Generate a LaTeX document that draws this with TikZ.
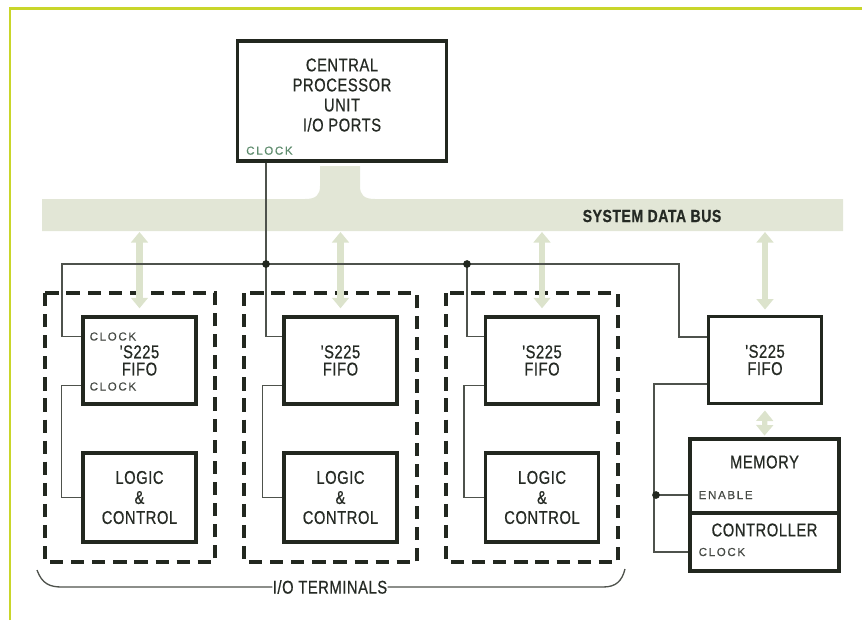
\documentclass[tikz,border=0pt]{standalone}
\usepackage{fontspec}
\usepackage{xcolor}
\usetikzlibrary{arrows.meta,calc}
\setmainfont{Liberation Sans}
\newfontfamily\blkfont{Liberation Sans}[FakeStretch=0.8,LetterSpace=3,FakeBold=0.6]
\newfontfamily\tagfont{Liberation Sans}[LetterSpace=14,FakeBold=0.4]
\definecolor{ink}{HTML}{22271F}
\definecolor{txt}{HTML}{252A24}
\definecolor{wirec}{HTML}{4E524C}
\definecolor{busc}{HTML}{E2E6D6}
\definecolor{arrc}{HTML}{DCE3CC}
\definecolor{framec}{HTML}{C9D62A}
\definecolor{clkc}{HTML}{5F8C6E}

\tikzset{
  blk/.style={draw=ink, line width=1.9pt, inner sep=0pt, minimum width=2.26cm,
    minimum height=1.74cm, align=center, text=txt,
    font=\blkfont\fontsize{10.5}{11.4}\selectfont},
  lbl/.style={inner sep=0pt, align=center, text=txt,
    font=\blkfont\fontsize{10.5}{11.4}\selectfont},
  tag/.style={inner sep=0pt, anchor=west, text=txt!85,
    font=\tagfont\fontsize{6.6}{7}\selectfont},
  grp/.style={draw=ink, line width=1.9pt, dash pattern=on 7.5pt off 4.5pt},
  wire/.style={draw=wirec, line width=0.75pt},
  busarr/.style={draw=arrc, line width=3.6pt,
    {Triangle[width=9.5pt,length=6pt]}-{Triangle[width=9.5pt,length=6pt]}},
}

\begin{document}
\begin{tikzpicture}[x=0.02cm, y=-0.02cm]
\useasboundingbox (0,0) rectangle (862,620);

% frame
\draw[framec, line width=1.7pt] (10,620) -- (10,8) -- (862,8);

% system data bus
\fill[busc] (42,199) -- (305,199) .. controls (316,199) and (320,195) .. (320,186)
  -- (320,166) -- (360,166) -- (360,186) .. controls (360,195) and (364,199) .. (375,199)
  -- (843,199) -- (843,231) -- (42,231) -- cycle;
\node[lbl, font=\bfseries\blkfont\fontsize{10}{11}\selectfont] (buslbl) at (652,216) {SYSTEM DATA BUS};
\coordinate (busbot) at (0,232);

% CPU
\node[blk, minimum width=4.18cm, minimum height=2.4cm] (cpu) at (342,101) {};
\node[lbl] (cputxt) at (342,95) {CENTRAL\\PROCESSOR\\UNIT\\I/O PORTS};
\node[tag, text=clkc] (cpuclk) at ($(cpu.south west)+(10,-12)$) {CLOCK};

% I/O terminals
\draw[grp] (45,293) rectangle (215,562);
\draw[grp] (244,293) rectangle (417,562);
\draw[grp] (446,293) rectangle (618,562);

\node[blk] (fifo1) at (139.5,360.5) {'S225\\[-1.6pt]FIFO};
\node[blk] (fifo2) at (340.5,360.5) {'S225\\[-1.6pt]FIFO};
\node[blk] (fifo3) at (542,360.5) {'S225\\[-1.6pt]FIFO};
\node[blk, minimum height=1.78cm] (logic1) at (139.5,497.5) {LOGIC\\\&\\CONTROL};
\node[blk, minimum height=1.78cm] (logic2) at (340.5,497.5) {LOGIC\\\&\\CONTROL};
\node[blk, minimum height=1.78cm] (logic3) at (542,497.5) {LOGIC\\\&\\CONTROL};
\node[tag] (clkin1) at ($(fifo1.west)+(8,-24)$) {CLOCK};
\node[tag] (clkout1) at ($(fifo1.west)+(8,26)$) {CLOCK};

% memory side
\node[blk] (fifo4) at (765,360) {'S225\\[-1.6pt]FIFO};
\node[blk, minimum width=2.98cm, minimum height=1.48cm] (mem) at (764.5,476) {};
\node[blk, minimum width=2.98cm, minimum height=1.16cm] (ctrl) at (764.5,542) {};
\node[lbl] (memtxt) at ($(mem.center)+(0,-14)$) {MEMORY};
\node[lbl] (ctrltxt) at ($(ctrl.center)+(0,-12)$) {CONTROLLER};
\node[tag] (enable) at ($(mem.west)+(10,19)$) {ENABLE};
\node[tag] (memclk) at ($(ctrl.west)+(10,10)$) {CLOCK};

% bus arrows
\draw[busarr, shorten >=4pt] (fifo1.north |- busbot) -- (fifo1.north);
\draw[busarr, shorten >=4pt] (fifo2.north |- busbot) -- (fifo2.north);
\draw[busarr, shorten >=4pt] (fifo3.north |- busbot) -- (fifo3.north);
\draw[busarr, shorten >=3pt] (fifo4.north |- busbot) -- (fifo4.north);
\draw[busarr, line width=3pt, shorten <=3pt, shorten >=1pt] (fifo4.south) -- (mem.north);

% clock lines
\coordinate (j1) at (266,264);
\coordinate (j2) at (467,264);
\coordinate (j3) at (656,495);
\draw[wire] ($(fifo1.west)+(0,-24)$) -| (62,264) -- (679,264) |- ($(fifo4.west)+(0,-23)$);
\draw[wire] (cpu.south -| j1) -- (j1) |- ($(fifo2.west)+(0,-24)$);
\draw[wire] (j2) |- ($(fifo3.west)+(0,-24)$);
\draw[wire] ($(fifo1.west)+(0,25)$) -- ++(-20,0) |- (logic1.west);
\draw[wire] ($(fifo2.west)+(0,25)$) -- ++(-20,0) |- (logic2.west);
\draw[wire] ($(fifo3.west)+(0,25)$) -- ++(-20,0) |- (logic3.west);
\draw[wire] ($(fifo4.west)+(0,24)$) -- ++(-53,0) |- ($(ctrl.west)+(0,10)$);
\draw[wire] (j3) -- (mem.west |- j3);
\fill[ink] (j1) circle (2.2pt) (j2) circle (2.2pt) (j3) circle (2.2pt);

% I/O terminals bracket
\node[lbl] (ioterm) at (330,587) {I/O TERMINALS};
\draw[wire] (37,570) .. controls (42,584) and (50,587) .. (62,587) -- (ioterm.west);
\draw[wire] (ioterm.east) -- (603,587) .. controls (616,587) and (622,581) .. (625,569);
\end{tikzpicture}
\end{document}
